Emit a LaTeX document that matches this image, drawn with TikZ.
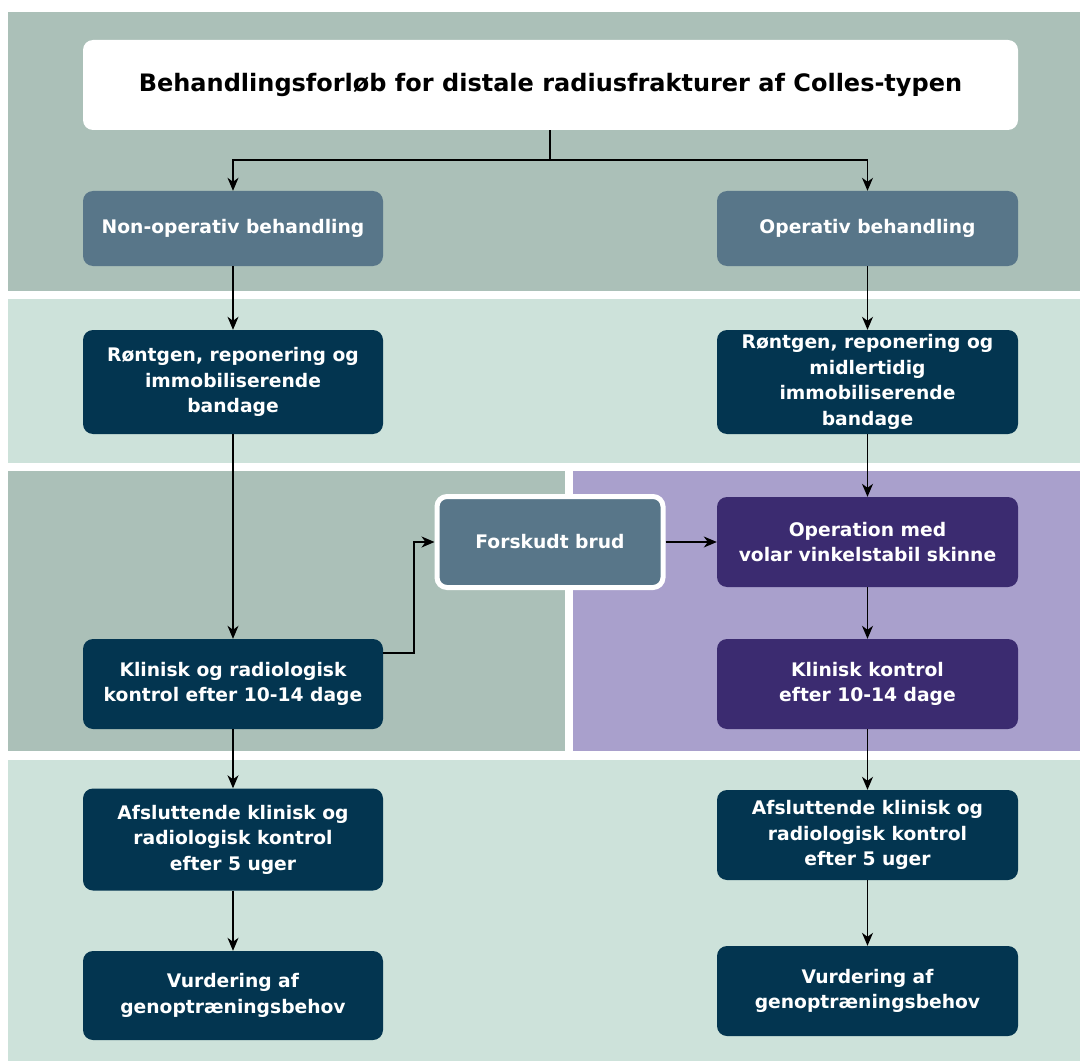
\documentclass[tikz,border=0pt]{standalone}
\usepackage{fontspec}
\setmainfont{DejaVu Sans}
\usetikzlibrary{arrows.meta}
\definecolor{bandA}{RGB}{171,192,184}
\definecolor{bandB}{RGB}{205,226,218}
\definecolor{bandP}{RGB}{169,160,204}
\definecolor{slate}{RGB}{88,118,137}
\definecolor{navy}{RGB}{3,53,80}
\definecolor{deeppurple}{RGB}{59,43,112}
\tikzset{
  box/.style={rounded corners=10pt, inner sep=0pt, align=center, text=white,
    font=\bfseries\fontsize{18.7}{25.5}\selectfont},
  conn/.style={draw=black, line width=1.2pt, -{Stealth[length=13pt,width=11pt,inset=4pt]}},
  line/.style={draw=black, line width=1.2pt}
}
\begin{document}
\begin{tikzpicture}[x=1pt,y=-1pt]
\useasboundingbox (0,0) rectangle (1080,1062);
\fill[white] (0,0) rectangle (1080,1062);
% bands
\fill[bandA] (8,12) rectangle (1080,291);
\fill[bandB] (8,299) rectangle (1080,463);
\fill[bandA] (8,471) rectangle (565,751);
\fill[bandP] (573,471) rectangle (1080,751);
\fill[bandB] (8,760) rectangle (1080,1061);
% nodes
\node[box, fill=white, text=black, minimum width=935pt, minimum height=90pt,
  font=\bfseries\fontsize{24}{28}\selectfont] (title) at (550.5,85)
  {Behandlingsforløb for distale radiusfrakturer af Colles-typen};
\node[box, fill=slate, minimum width=300pt, minimum height=75pt] (nonop) at (233,228.5) {Non-operativ behandling};
\node[box, fill=slate, minimum width=301pt, minimum height=75pt] (op) at (867.5,228.5) {Operativ behandling};
\node[box, fill=navy, minimum width=300pt, minimum height=104pt] (rl) at (233,382) {Røntgen, reponering og\\immobiliserende\\bandage};
\node[box, fill=navy, minimum width=301pt, minimum height=104pt] (rr) at (867.5,382) {Røntgen, reponering og\\midlertidig\\immobiliserende\\bandage};
\node[box, fill=slate, draw=white, line width=5pt, minimum width=226pt, minimum height=91pt] (fb) at (550,542) {Forskudt brud};
\node[box, fill=deeppurple, minimum width=301pt, minimum height=90pt] (opm) at (867.5,542) {Operation med\\volar vinkelstabil skinne};
\node[box, fill=navy, minimum width=300pt, minimum height=90pt] (kl) at (233,684) {Klinisk og radiologisk\\kontrol efter 10-14 dage};
\node[box, fill=deeppurple, minimum width=301pt, minimum height=90pt] (kr) at (867.5,684) {Klinisk kontrol\\efter 10-14 dage};
\node[box, fill=navy, minimum width=300pt, minimum height=102pt] (al) at (233,839.5) {Afsluttende klinisk og\\radiologisk kontrol\\efter 5 uger};
\node[box, fill=navy, minimum width=301pt, minimum height=90pt] (ar) at (867.5,835) {Afsluttende klinisk og\\radiologisk kontrol\\efter 5 uger};
\node[box, fill=navy, minimum width=300pt, minimum height=89pt] (vl) at (233,995.5) {Vurdering af\\genoptræningsbehov};
\node[box, fill=navy, minimum width=301pt, minimum height=90pt] (vr) at (867.5,991) {Vurdering af\\genoptræningsbehov};
% connectors
\coordinate (tsplit) at (550,160);
\draw[line] (title.south -| tsplit) -- (tsplit);
\draw[conn] (tsplit) -| (nonop.north);
\draw[conn] (tsplit) -| (op.north);
\draw[conn] (nonop) -- (rl);
\draw[conn] (rl) -- (kl);
\draw[conn] (kl) -- (al);
\draw[conn] (al) -- (vl);
\draw[conn] (op) -- (rr);
\draw[conn] (rr) -- (opm);
\draw[conn] (opm) -- (kr);
\draw[conn] (kr) -- (ar);
\draw[conn] (ar) -- (vr);
\coordinate (kbend) at (414,653);
\draw[conn] (kl.east |- kbend) -- (kbend) |- (fb.west);
\draw[conn] (fb.east) -- (opm.west);
\end{tikzpicture}
\end{document}
